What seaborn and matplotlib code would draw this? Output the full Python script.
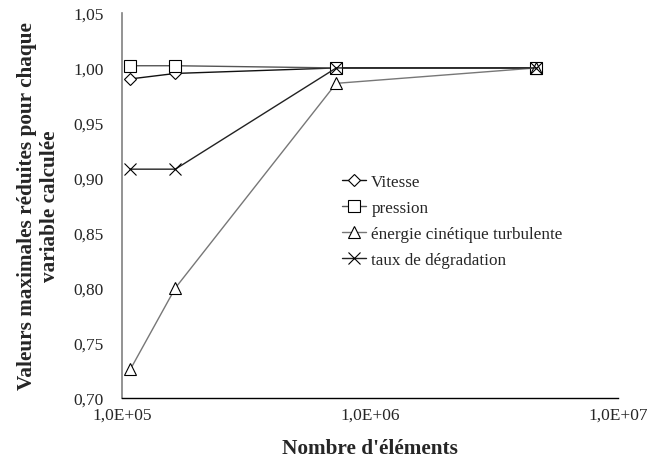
import numpy as np
import pandas as pd
import seaborn as sns
import matplotlib.pyplot as plt
from matplotlib.ticker import FixedLocator, FuncFormatter, NullLocator

# --- données ---
nb_elements = [1.08e5, 1.64e5, 7.3e5, 4.67e6]
vitesse = [0.990, 0.995, 1.000, 1.000]
pression = [1.002, 1.002, 1.000, 1.000]
energie = [0.726, 0.800, 0.986, 1.000]
taux = [0.908, 0.908, 1.000, 1.000]

series = ['Vitesse', 'pression', 'énergie cinétique turbulente', 'taux de dégradation']
valeurs = [vitesse, pression, energie, taux]
marqueurs = ['D', 's', '^', 'x']
tailles = [6.5, 8.0, 9.0, 9.0]
couleurs_ligne = ['#111111', '#555555', '#777777', '#222222']

sns.set_style('white')
plt.rcParams['font.family'] = ['Liberation Serif', 'DejaVu Serif']

fig = plt.figure(figsize=(6.47, 4.64), dpi=100)
ax = fig.add_axes([0.1886, 0.140, 0.767, 0.830])

for nom, vals, m, ms, c in zip(series, valeurs, marqueurs, tailles, couleurs_ligne):
    df = pd.DataFrame({'x': nb_elements, 'y': vals})
    sns.lineplot(data=df, x='x', y='y', ax=ax, label=nom, color=c, linewidth=1.0,
                 marker=m, markersize=ms, markerfacecolor='white',
                 markeredgecolor='black', markeredgewidth=0.8)

ax.set_xscale('log')
ax.set_xlim(1e5, 1e7)
ax.set_ylim(0.70, 1.05)
ax.xaxis.set_major_locator(FixedLocator([1e5, 1e6, 1e7]))
ax.xaxis.set_minor_locator(NullLocator())
ax.set_yticks(np.arange(0.70, 1.051, 0.05))
ax.xaxis.set_major_formatter(FuncFormatter(lambda v, p: '1,0E+%02d' % int(round(np.log10(v)))))
ax.yaxis.set_major_formatter(FuncFormatter(lambda v, p: ('%.2f' % v).replace('.', ',')))
ax.tick_params(axis='both', direction='out', length=4, width=0.8, labelsize=12.5,
               color='#555555')
ax.tick_params(axis='y', pad=9)
ax.tick_params(axis='x', length=3, pad=3)

for s in ['top', 'right']:
    ax.spines[s].set_visible(False)
ax.spines['left'].set_color('#808080')
ax.spines['bottom'].set_color('black')
ax.spines['left'].set_linewidth(1.2)
ax.spines['bottom'].set_linewidth(1.0)

ax.set_xlabel("Nombre d'éléments", fontsize=15.3, fontweight='bold', labelpad=11)
ax.set_ylabel('Valeurs maximales réduites pour chaque\nvariable calculée', fontsize=15.3,
              fontweight='bold', labelpad=10)

ax.legend(loc='upper left', bbox_to_anchor=(0.43, 0.60), frameon=False, fontsize=12.3,
          handlelength=1.4, handletextpad=0.3, labelspacing=0.58, borderaxespad=0)

fig.savefig('out.png', dpi=100)
